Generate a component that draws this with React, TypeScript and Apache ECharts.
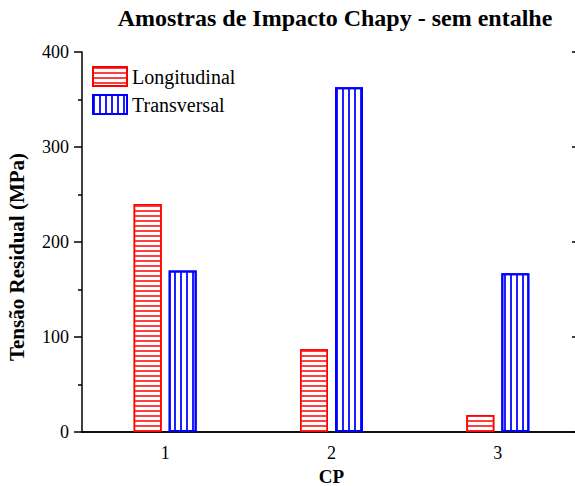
import React, { useEffect, useRef } from "react";
import * as echarts from "echarts";

const categories = ["1", "2", "3"];
const longitudinal = [240, 87, 18];
const transversal = [170, 363, 167];
const yTicks = { min: 0, max: 400, interval: 100 };

const FONT = "'Liberation Serif', 'Times New Roman', serif";

export default function App() {
  const ref = useRef<HTMLDivElement>(null);
  useEffect(() => {
    document.body.style.margin = "0";
    const chart = echarts.init(ref.current!, null, { renderer: "svg" });
    const axisLine = { show: true, lineStyle: { color: "#000", width: 1.5 } };
    chart.setOption({
      animation: false,
      backgroundColor: "#fff",
      title: {
        text: "Amostras de Impacto Chapy - sem entalhe",
        left: 330,
        top: 1,
        textAlign: "center",
        textStyle: { fontFamily: FONT, fontWeight: "bold", fontSize: 24, color: "#000" },
      },
      legend: {
        orient: "vertical",
        left: 87,
        top: 61,
        icon: "rect",
        itemWidth: 34,
        itemHeight: 19,
        itemGap: 7,
        textStyle: { fontFamily: FONT, fontSize: 20, color: "#000" },
        data: ["Longitudinal", "Transversal"],
      },
      grid: { left: 82, top: 52, right: 2, bottom: 54, containLabel: false, outerBoundsMode: "none" },
      xAxis: [
        {
          type: "category",
          data: categories,
          position: "bottom",
          axisLine,
          axisTick: { alignWithLabel: true, length: 6, lineStyle: { color: "#000", width: 1.5 } },
          axisLabel: { fontFamily: FONT, fontSize: 18, color: "#000", margin: 12 },
          name: "CP",
          nameLocation: "middle",
          nameGap: 34,
          nameTextStyle: { fontFamily: FONT, fontWeight: "bold", fontSize: 19, lineHeight: 18, color: "#000" },
        },
        {
          type: "category",
          data: categories,
          position: "top",
          axisLine,
          axisTick: { alignWithLabel: true, inside: true, length: 6, lineStyle: { color: "#000", width: 1.5 } },
          axisLabel: { show: false },
        },
        {
          type: "category",
          data: categories,
          position: "top",
          axisLine: { show: false },
          axisTick: { inside: true, length: 3, lineStyle: { color: "#000", width: 1.5 } },
          axisLabel: { show: false },
        },
      ],
      yAxis: [
        {
          type: "value",
          min: yTicks.min,
          max: yTicks.max,
          interval: yTicks.interval,
          position: "left",
          axisLine,
          axisTick: { show: true, length: 8, lineStyle: { color: "#000", width: 1.5 } },
          minorTick: { show: true, splitNumber: 2, length: 4, lineStyle: { color: "#000", width: 1.5 } },
          splitLine: { show: false },
          axisLabel: { fontFamily: FONT, fontSize: 18, color: "#000", margin: 13 },
          name: "Tensão Residual (MPa)",
          nameLocation: "middle",
          nameGap: 55,
          nameTextStyle: {
            fontFamily: FONT,
            fontWeight: "bold",
            fontSize: 21,
            color: "#000",
            padding: [0, 30, 0, 0],
          },
        },
        {
          type: "value",
          min: yTicks.min,
          max: yTicks.max,
          interval: yTicks.interval,
          position: "right",
          axisLine,
          axisTick: { show: true, inside: true, length: 9, lineStyle: { color: "#000", width: 1.5 } },
          splitLine: { show: false },
          axisLabel: { show: false },
        },
      ],
      series: [
        {
          name: "Longitudinal",
          type: "bar",
          data: longitudinal,
          barWidth: 28,
          barGap: "25%",
          itemStyle: {
            color: "#fff",
            borderColor: "#ff0000",
            borderWidth: 1.5,
            decal: {
              symbol: "rect",
              symbolSize: 1,
              color: "#ff4040",
              backgroundColor: "#fff",
              dashArrayX: [1, 0],
              dashArrayY: [1.2, 2.6],
            },
          },
        },
        {
          name: "Transversal",
          type: "bar",
          data: transversal,
          barWidth: 28,
          itemStyle: {
            color: "#fff",
            borderColor: "#0000ff",
            borderWidth: 2,
            decal: {
              symbol: "rect",
              symbolSize: 1,
              color: "#2020ff",
              backgroundColor: "#fff",
              dashArrayX: [1.4, 3.6],
              dashArrayY: [1, 0],
            },
          },
        },
      ],
    });
    return () => chart.dispose();
  }, []);
  return (
    <div style={{ position: "fixed", left: 0, top: 0, width: 575, height: 486, overflow: "hidden", background: "#fff" }}>
      <div ref={ref} style={{ width: 583, height: 486 }} />
    </div>
  );
}
